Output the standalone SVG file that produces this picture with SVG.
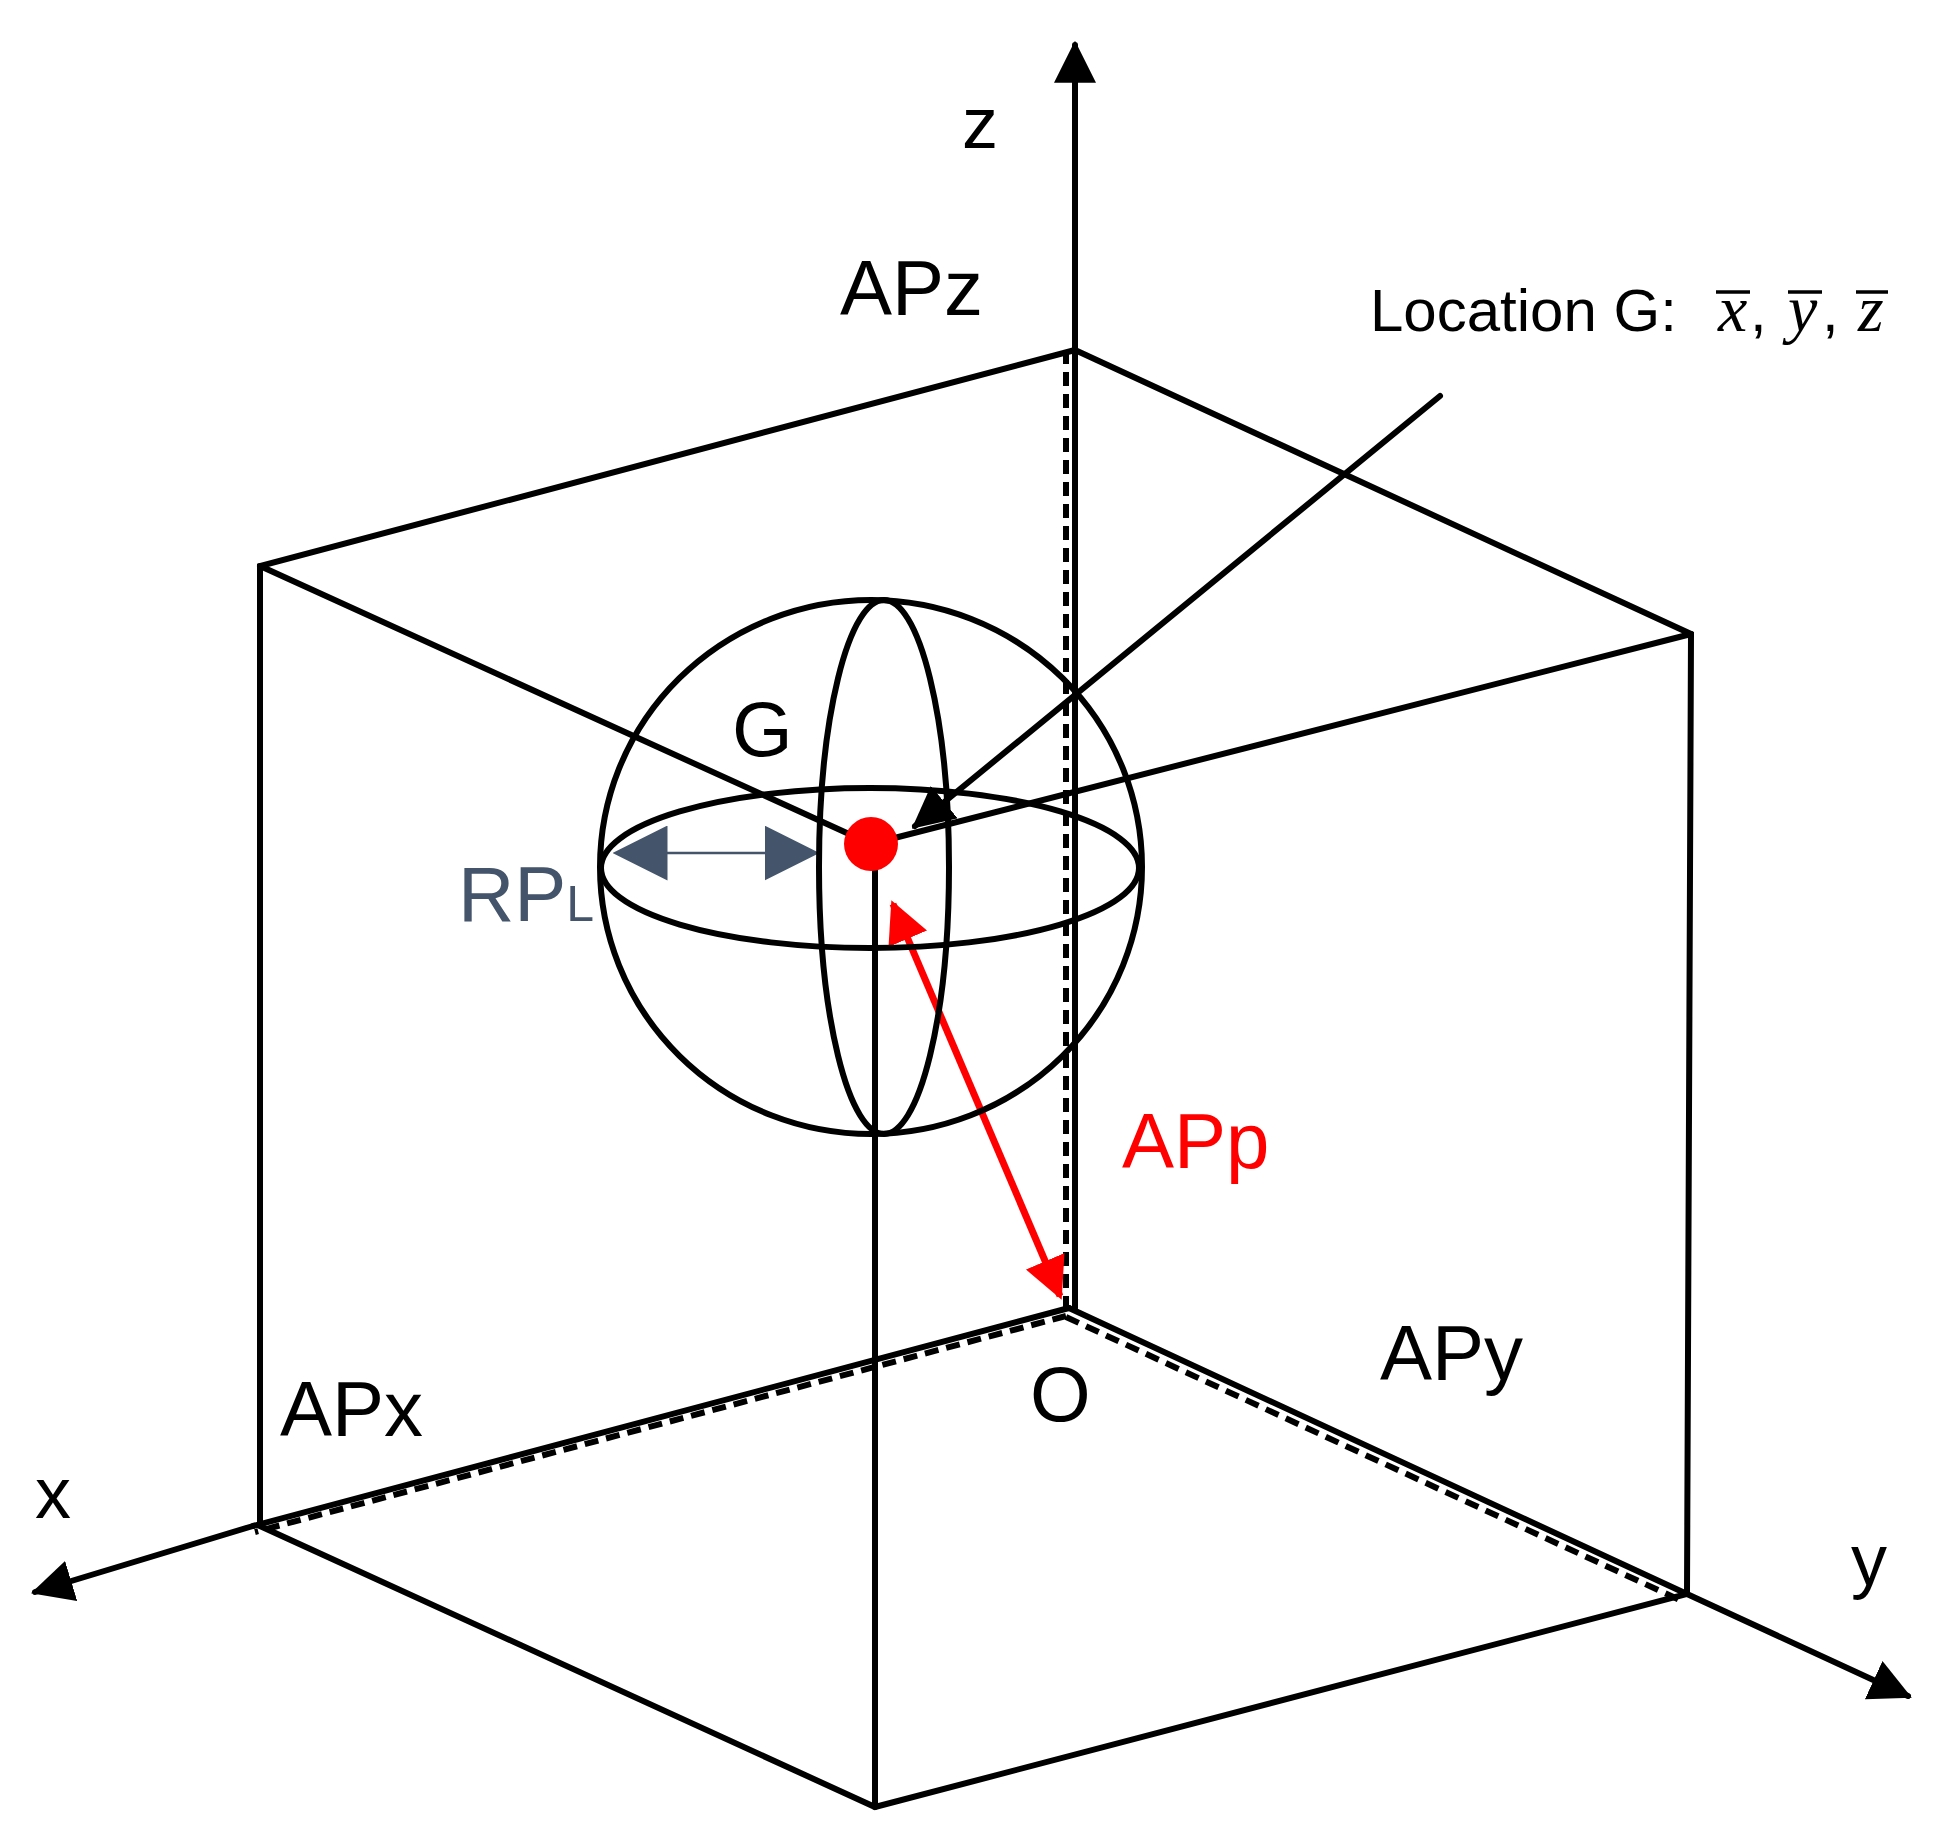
<svg xmlns="http://www.w3.org/2000/svg" width="1938" height="1836" viewBox="0 0 1938 1836">
<style>
.l{stroke:#000;stroke-width:6;fill:none;stroke-linecap:round}
.d{stroke:#000;stroke-width:6;fill:none;stroke-dasharray:14 8}
.t{font-family:"Liberation Sans",Arial,sans-serif;fill:#000}
.m{font-family:"Liberation Serif",serif;font-style:italic;font-size:66px}
.ov{stroke:#000;stroke-width:3.5}
</style>
<defs>
<marker id="ab" viewBox="0 0 10 10" refX="9" refY="5" markerWidth="7" markerHeight="7" orient="auto" markerUnits="strokeWidth"><path d="M0,0L10,5L0,10z" fill="#000"/></marker>
<marker id="ar" viewBox="0 0 10 10" refX="9" refY="5" markerWidth="6" markerHeight="6" orient="auto-start-reverse" markerUnits="strokeWidth"><path d="M0,0L10,5L0,10z" fill="#f00"/></marker>
<marker id="abl" viewBox="0 0 10 10" refX="9" refY="5" markerWidth="22" markerHeight="22" orient="auto-start-reverse" markerUnits="strokeWidth"><path d="M0,0L10,5L0,10z" fill="#44546a"/></marker>
</defs>
<rect width="1938" height="1836" fill="#fff"/>
<g id="connectors">
<line class="l" x1="1075" y1="1308" x2="1075" y2="45" marker-end="url(#ab)"/>
<line class="d" x1="1066" y1="350" x2="1066" y2="1308"/>
<line class="l" x1="253" y1="1526" x2="35" y2="1592" marker-end="url(#ab)"/>
<line class="l" x1="1687" y1="1594" x2="1908" y2="1696" marker-end="url(#ab)"/>
<line class="l" x1="1069" y1="1308" x2="253" y2="1526"/>
<line class="d" x1="1066" y1="1316" x2="255" y2="1532"/>
<line class="l" x1="1069" y1="1308" x2="1687" y2="1594"/>
<line class="d" x1="1066" y1="1317" x2="1682" y2="1601"/>
<polyline class="l" points="1075,350 260,566 260,1526 875,1807 1687,1594 1691,634 1075,350"/>
<line class="l" x1="260" y1="566" x2="871" y2="844"/>
<line class="l" x1="1691" y1="634" x2="871" y2="844"/>
<line class="l" x1="875" y1="844" x2="875" y2="1807"/>
<line class="l" x1="1440" y1="396" x2="915" y2="826" marker-end="url(#ab)"/>
<line stroke="#f00" stroke-width="7" x1="893" y1="904" x2="1060" y2="1296" marker-start="url(#ar)" marker-end="url(#ar)"/>
<line stroke="#44546a" stroke-width="2.5" x1="618" y1="853" x2="814" y2="853" marker-start="url(#abl)" marker-end="url(#abl)"/>
</g>
<g id="sphere">
<ellipse class="l" cx="871" cy="867" rx="271" ry="267"/>
<ellipse class="l" cx="870" cy="868" rx="269" ry="80"/>
<ellipse class="l" cx="884" cy="867" rx="65" ry="267"/>
</g>
<g id="G"><circle cx="871" cy="844" r="27" fill="#f00"/><text class="t" x="732" y="756" font-size="78">G</text></g>
<g id="labels">
<text class="t" x="962" y="148" font-size="72">z</text>
<text class="t" x="840" y="315" font-size="78">APz</text>
<text class="t" x="1370" y="331" font-size="60">Location G:</text>
<text class="t m" x="1718" y="331">x</text>
<text class="t" x="1750" y="331" font-size="60">,</text>
<text class="t m" x="1788" y="331">y</text>
<text class="t" x="1822" y="331" font-size="60">,</text>
<text class="t m" x="1858" y="331">z</text>
<line class="ov" x1="1716" y1="292" x2="1750" y2="292"/>
<line class="ov" x1="1788" y1="292" x2="1822" y2="292"/>
<line class="ov" x1="1856" y1="292" x2="1888" y2="292"/>
<text class="t" x="458" y="921" font-size="78" style="fill:#44546a">RP<tspan font-size="50">L</tspan></text>
<text class="t" x="1122" y="1168" font-size="78" style="fill:#f00">APp</text>
<text class="t" x="1380" y="1380" font-size="78">APy</text>
<text class="t" x="1030" y="1421" font-size="78">O</text>
<text class="t" x="280" y="1436" font-size="78">APx</text>
<text class="t" x="35" y="1518" font-size="72">x</text>
<text class="t" x="1851" y="1585" font-size="72">y</text>
</g>
</svg>
